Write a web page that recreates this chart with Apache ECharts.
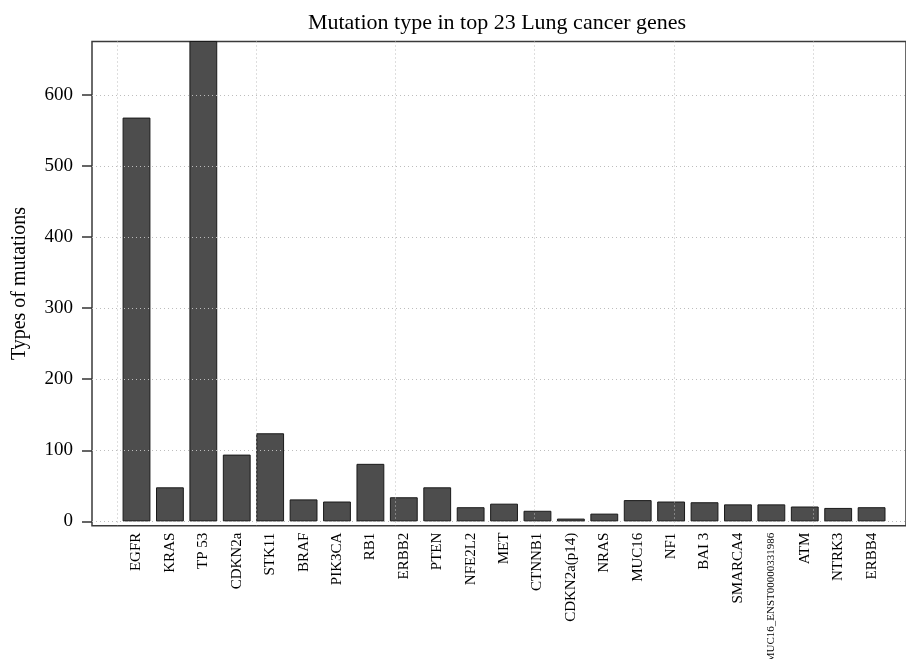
<!DOCTYPE html>
<html>
<head>
<meta charset="utf-8">
<title>Mutation type in top 23 Lung cancer genes</title>
<script src="https://cdn.jsdelivr.net/npm/echarts@6/dist/echarts.min.js"></script>
<style>
  html, body { margin: 0; padding: 0; background: #ffffff; }
  #chart { width: 906px; height: 659px; }
</style>
</head>
<body>
<div id="chart"></div>
<script>
// Genes and the number of distinct mutation types recorded for each
const genes = [
  'EGFR', 'KRAS', 'TP 53', 'CDKN2a', 'STK11', 'BRAF', 'PIK3CA', 'RB1',
  'ERBB2', 'PTEN', 'NFE2L2', 'MET', 'CTNNB1', 'CDKN2a(p14)', 'NRAS',
  'MUC16', 'NF1', 'BAI 3', 'SMARCA4', 'MUC16_ENST00000331986', 'ATM',
  'NTRK3', 'ERBB4'
];
const mutationTypes = [
  568, 48, 700, 94, 124, 31, 28, 81,
  34, 48, 20, 25, 15, 4, 11,
  30, 28, 27, 24, 24, 21,
  19, 20
];

// Tick values for the value axis and for the vertical reference grid
const yTicks = [0, 100, 200, 300, 400, 500, 600];
const xGridTicks = [0, 5, 10, 15, 20, 25];

const FONT = 'Liberation Serif';
const GRID_TOP = 41.5;
const GRID_BOTTOM = 133.3;
const Y_MIN = -6;
const Y_MAX = 675;
const GRID_LINE = { color: '#bdbdbd', type: [1, 3], width: 1 };

const chart = echarts.init(document.getElementById('chart'), null, { renderer: 'canvas' });

const longLabel = 'MUC16_ENST00000331986';
const categoryData = genes.map(function (g) {
  return g === longLabel ? { value: g, textStyle: { fontSize: 11 } } : g;
});

chart.setOption({
  backgroundColor: '#ffffff',
  animation: false,
  title: {
    text: 'Mutation type in top 23 Lung cancer genes',
    left: 492,
    top: 7,
    textAlign: 'center',
    textStyle: { fontFamily: FONT, fontSize: 22, fontWeight: 'normal', color: '#000000' }
  },
  grid: [
    {
      // plotting frame with the dotted reference grid
      left: 92, right: 0, top: GRID_TOP, bottom: GRID_BOTTOM,
      outerBoundsMode: 'none', containLabel: false,
      show: true, borderColor: '#3a3a3a', borderWidth: 1.5, backgroundColor: 'transparent'
    },
    {
      // band layout for the bars
      left: 119.8, width: 768.5, top: GRID_TOP, bottom: GRID_BOTTOM,
      outerBoundsMode: 'none', containLabel: false
    }
  ],
  xAxis: [
    {
      type: 'value', gridIndex: 0, min: -0.9, max: 28.34, z: 3,
      axisLine: { show: false, onZero: false },
      axisTick: { show: false, customValues: xGridTicks },
      axisLabel: { show: false },
      splitLine: { show: true, lineStyle: GRID_LINE }
    },
    {
      type: 'category', gridIndex: 1, data: categoryData,
      axisLine: { show: false, onZero: false },
      axisTick: { show: false },
      splitLine: { show: false },
      axisLabel: {
        interval: 0, rotate: 90, margin: 7,
        fontFamily: FONT, fontSize: 15, color: '#000000'
      }
    }
  ],
  yAxis: [
    {
      type: 'value', gridIndex: 0, min: Y_MIN, max: Y_MAX, z: 3,
      name: 'Types of mutations',
      nameLocation: 'middle',
      nameGap: 62,
      nameTextStyle: { fontFamily: FONT, fontSize: 20, color: '#000000' },
      axisLine: { show: false, onZero: false },
      axisTick: { show: true, length: 10, customValues: yTicks, lineStyle: { color: '#333333', width: 1.5 } },
      axisLabel: { customValues: yTicks, margin: 19, fontFamily: FONT, fontSize: 19, color: '#000000' },
      splitLine: { show: true, lineStyle: GRID_LINE }
    },
    {
      type: 'value', gridIndex: 1, min: Y_MIN, max: Y_MAX,
      axisLine: { show: false, onZero: false },
      axisTick: { show: false },
      axisLabel: { show: false },
      splitLine: { show: false }
    }
  ],
  series: [
    {
      type: 'bar',
      xAxisIndex: 1,
      yAxisIndex: 1,
      data: mutationTypes,
      barCategoryGap: '16.7%',
      clip: true,
      itemStyle: { color: '#4d4d4d', borderColor: '#1a1a1a', borderWidth: 1 }
    }
  ]
});
</script>
</body>
</html>
